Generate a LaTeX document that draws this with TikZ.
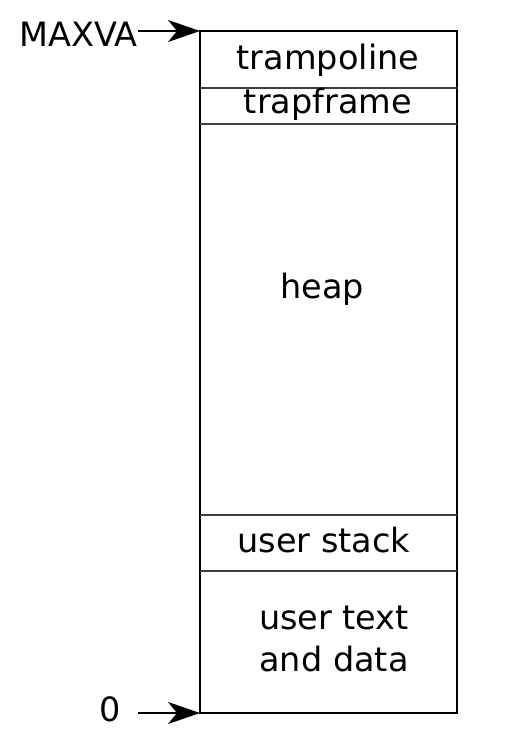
\documentclass[tikz,border=0pt]{standalone}
\usepackage{fontspec}
\setmainfont{DejaVu Sans}
\usetikzlibrary{arrows.meta}

\tikzset{
    seglabel/.style={font=\fontsize{33.5}{40}\selectfont, align=center, inner sep=0pt},
    divider/.style={line width=1.6pt, black!75},
    pointer/.style={line width=1.6pt, -{Stealth[length=32pt,width=22pt,inset=9pt]}}
}

\begin{document}
\begin{tikzpicture}[x=1pt,y=-1pt]
                \useasboundingbox (0,0) rectangle (521,744);

                % address space
                \draw[line width=2.4pt] (200,31) rectangle (457,713);
                \coordinate (top) at (200,31);
                \coordinate (bottom) at (200,713);

                \draw[divider] (200,88) -- (457,88);
                \draw[divider] (200,124) -- (457,124);
                \draw[divider] (200,515) -- (457,515);
                \draw[divider] (200,571) -- (457,571);

                \node[seglabel] (tramp) at (328,60) {trampoline};
                \node[seglabel] (trap) at (328,104) {trapframe};
                \node[seglabel] (heap) at (322,289) {heap};
                \node[seglabel] (ustack) at (324,540) {user stack};
                \node[seglabel] (utext) at (334,639) {user text\\[2pt]and data};

                % limits
                \node[seglabel, anchor=east] (maxva) at (138,34) {MAXVA};
                \node[seglabel] (zero) at (110,709) {0};
                \coordinate (zerotail) at (138,713);

                \draw[pointer] (maxva.east |- top) -- (top);
                \draw[pointer] (zerotail) -- (bottom);
\end{tikzpicture}
\end{document}
